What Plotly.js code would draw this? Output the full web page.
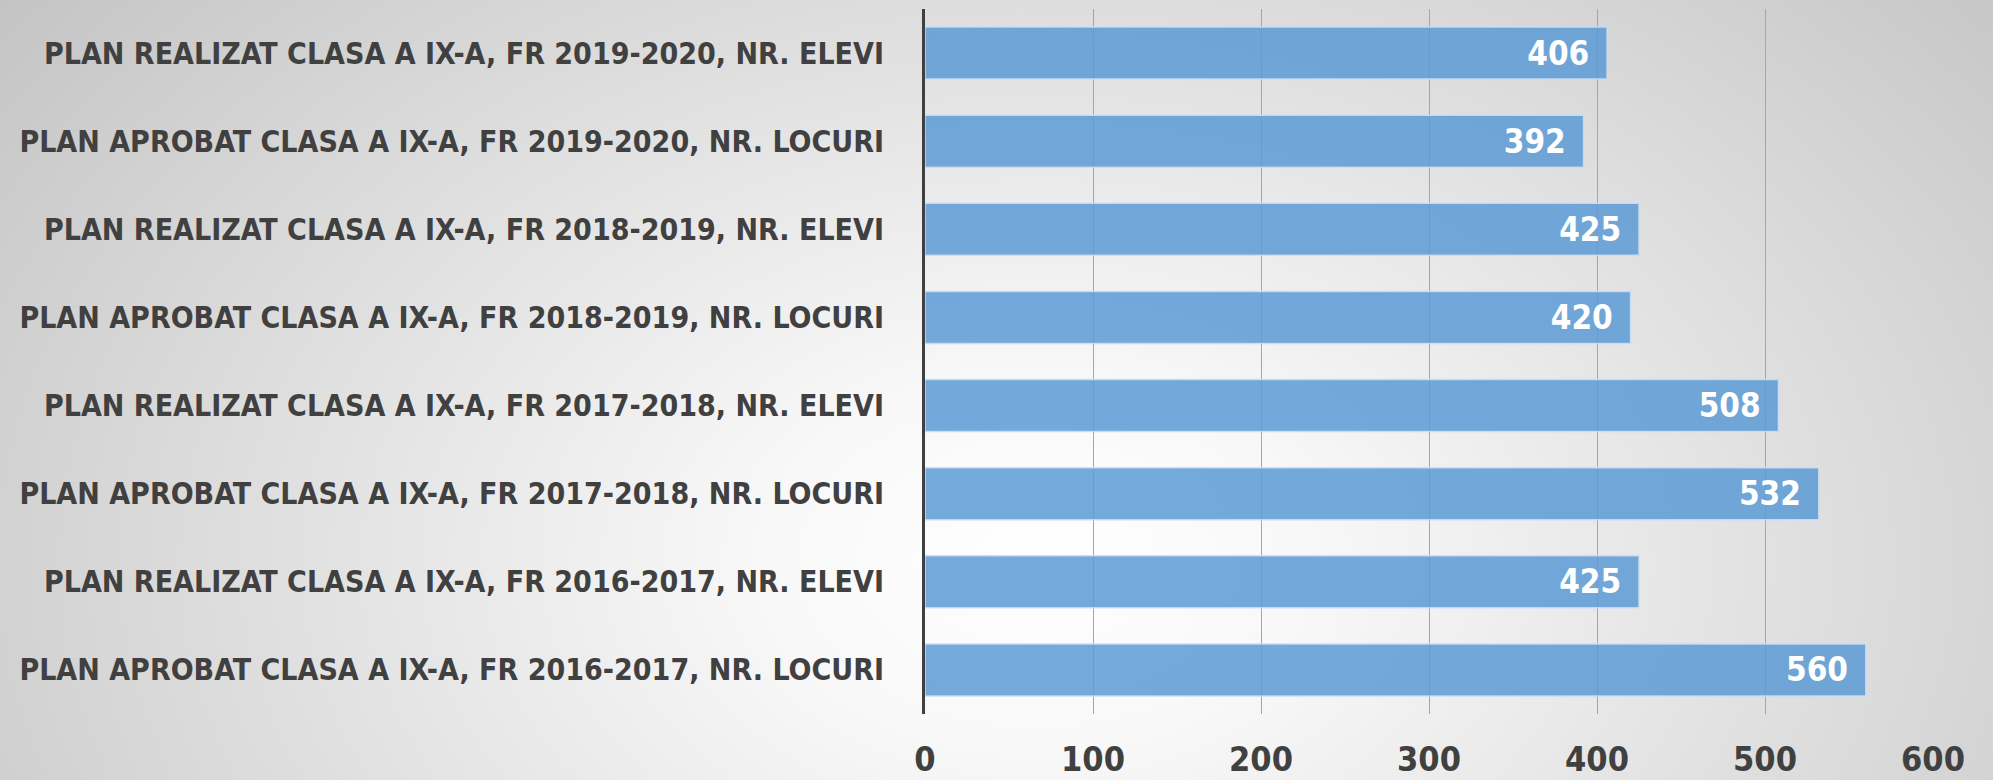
<!DOCTYPE html>
<html>
<head>
<meta charset="utf-8">
<script src="https://cdn.plot.ly/plotly-3.0.1.min.js"></script>
<style>
  html, body { margin: 0; padding: 0; width: 1993px; height: 780px; overflow: hidden; }
  body { background: radial-gradient(ellipse 68% 120% at 52% 72%, #ffffff 0%, #f8f8f8 20%, #c2c2c2 100%); }
  #chart { width: 1993px; height: 780px; }
</style>
</head>
<body>
<div id="chart"></div>
<script>
// Categories listed top to bottom as they appear
const categories = [
  "PLAN REALIZAT CLASA A IX-A, FR 2019-2020, NR. ELEVI",
  "PLAN APROBAT CLASA A IX-A, FR 2019-2020, NR. LOCURI",
  "PLAN REALIZAT CLASA A IX-A, FR 2018-2019, NR. ELEVI",
  "PLAN APROBAT CLASA A IX-A, FR 2018-2019, NR. LOCURI",
  "PLAN REALIZAT CLASA A IX-A, FR 2017-2018, NR. ELEVI",
  "PLAN APROBAT CLASA A IX-A, FR 2017-2018, NR. LOCURI",
  "PLAN REALIZAT CLASA A IX-A, FR 2016-2017, NR. ELEVI",
  "PLAN APROBAT CLASA A IX-A, FR 2016-2017, NR. LOCURI"
];
const values = [406, 392, 425, 420, 508, 532, 425, 560];
const xTicks = [0, 100, 200, 300, 400, 500, 600];

const FONT = '"DejaVu Sans Condensed", "Liberation Sans Narrow", "Noto Sans", sans-serif';

const trace = {
  type: 'bar',
  orientation: 'h',
  y: categories,
  x: values,
  text: values.map(v => String(v) + '\u2002'),
  textposition: 'inside',
  insidetextanchor: 'end',
  textangle: 0,
  constraintext: 'none',
  textfont: { family: FONT, size: 33, color: '#ffffff', weight: 'bold' },
  marker: {
    color: 'rgba(91,155,213,0.85)',
    line: { color: 'rgba(200,222,243,0.9)', width: 1.5 }
  },
  hoverinfo: 'x+y'
};

const layout = {
  width: 1993,
  height: 780,
  margin: { l: 925, r: 60, t: 9, b: 66 },
  paper_bgcolor: 'rgba(0,0,0,0)',
  plot_bgcolor: 'rgba(0,0,0,0)',
  bargap: 0.41,
  showlegend: false,
  font: { family: FONT, color: '#404040' },
  xaxis: {
    range: [0, 600],
    tickvals: xTicks,
    ticktext: xTicks.map(String),
    showgrid: true,
    gridcolor: '#a6a6a6',
    gridwidth: 1,
    zeroline: false,
    showline: false,
    ticks: '',
    ticklabelstandoff: 22,
    tickfont: { family: FONT, size: 34, color: '#404040', weight: 'bold' },
    fixedrange: true
  },
  yaxis: {
    autorange: 'reversed',
    showline: true,
    linecolor: '#404040',
    linewidth: 3,
    showgrid: false,
    zeroline: false,
    ticks: '',
    ticklabelstandoff: 32,
    tickfont: { family: FONT, size: 30, color: '#404040', weight: 'bold' },
    fixedrange: true
  }
};

Plotly.newPlot('chart', [trace], layout, { displayModeBar: false, staticPlot: true });
</script>
</body>
</html>
